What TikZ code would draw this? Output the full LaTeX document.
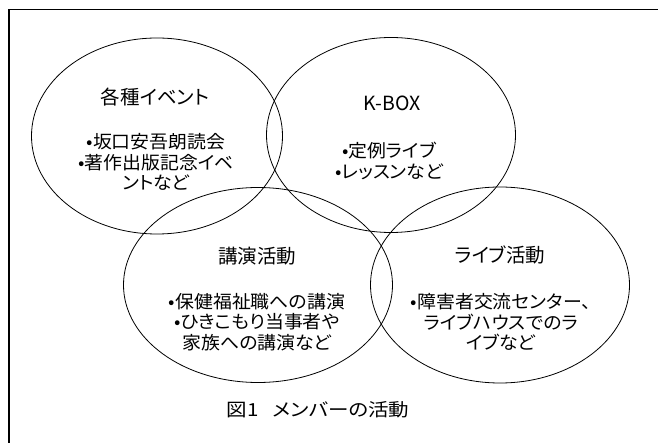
\documentclass[tikz,border=0pt]{standalone}
\usepackage{fontspec}
\setmainfont{Noto Sans CJK JP}[RawFeature=+palt]
\newfontfamily\widejp{Noto Sans CJK JP}[RawFeature=+palt, FakeStretch=1.05]
\newfontfamily\capjp{Noto Sans CJK JP}[RawFeature=+palt, FakeStretch=1.14]
\usetikzlibrary{shapes.geometric}
\tikzset{
  circ/.style={ellipse, draw=black, line width=0.8pt, inner sep=0pt},
  ttl/.style={font=\fontsize{19.5}{22}\selectfont, inner sep=0pt},
  body/.style={font=\widejp\fontsize{18}{20.8}\selectfont, align=center, inner sep=0pt},
  capt/.style={font=\capjp\fontsize{18}{20}\selectfont, inner sep=0pt},
  frame/.style={line width=1.8pt, black}
}
\begin{document}
\begin{tikzpicture}[x=1pt,y=-1pt]
\useasboundingbox (0,0) rectangle (658,443);
\coordinate (fr1) at (9,443);
\coordinate (fr2) at (9,9.5);
\coordinate (fr3) at (658,9.5);
\draw[frame] (fr1) -- (fr2) -- (fr3);
\node[circ, minimum width=251pt, minimum height=196pt] (e1) at (157,136) {};
\node[circ, minimum width=249pt, minimum height=195pt] (e2) at (391,135) {};
\node[circ, minimum width=269pt, minimum height=195pt] (e3) at (258,285) {};
\node[circ, minimum width=259pt, minimum height=196pt] (e4) at (500,285) {};
\node[ttl] (t1) at (155,97) {各種イベント};
\node[body] (b1) at (156,162) {•坂口安吾朗読会\\•著作出版記念イベ\\ントなど};
\node[ttl] (t2) at (392,103) {K-BOX};
\node[body] (b2) at (389,161) {•定例ライブ\\•レッスンなど};
\node[ttl] (t3) at (257,256) {講演活動};
\node[body] (b3) at (257,322) {•保健福祉職への講演\\•ひきこもり当事者や\\家族への講演など};
\node[ttl] (t4) at (500,255) {ライブ活動};
\node[body] (b4) at (501,322) {•障害者交流センター、\\ライブハウスでのラ\\イブなど};
\node[capt] (cap) at (318,410) {図1\hspace{14pt}メンバーの活動};
\end{tikzpicture}
\end{document}
